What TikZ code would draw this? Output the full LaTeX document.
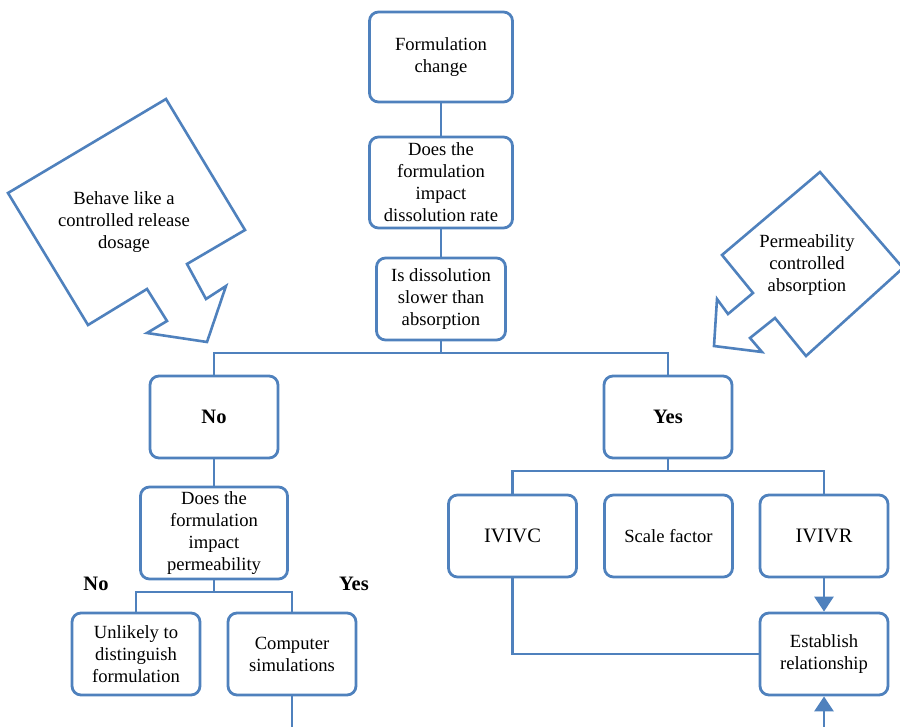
\documentclass[tikz,border=0pt]{standalone}
\usepackage{fontspec}
\setmainfont{Liberation Serif}
\usetikzlibrary{arrows.meta}

\definecolor{boxblue}{RGB}{79,129,189}

\begin{document}
\begin{tikzpicture}[x=1pt, y=-1pt,
    line width=2.8pt, draw=boxblue,
    box/.style={draw=boxblue, line width=2.8pt, rounded corners=9pt, fill=white,
        align=center, inner sep=0pt, minimum width=128pt, minimum height=82pt,
        font=\fontsize{18.6}{22}\selectfont},
    bigbox/.style={box, font=\fontsize{20.5}{22}\selectfont},
    callout/.style={draw=boxblue, line width=2.6pt, fill=white, line join=miter},
    branch/.style={font=\fontsize{20.5}{22}\selectfont\bfseries},
    >={Triangle[width=19pt,length=15pt]}]
    \useasboundingbox (0,0) rectangle (900,726);
    \clip (0,0) rectangle (900,726);

    % --- Callout arrows ---
    \draw[callout] (166,99) -- (245,230) -- (187,264) -- (206,299) -- (226,286)
        -- (207,342) -- (147,333) -- (167,321) -- (147,289) -- (88,325)
        -- (8,193) -- cycle;
    \node[align=center, font=\fontsize{18.6}{22}\selectfont] (behave) at (124,222)
        {Behave like a\\controlled release\\dosage};

    \draw[callout] (820,172) -- (903,268) -- (806,356) -- (775,318) -- (750,338)
        -- (762,352) -- (714,346) -- (717,299) -- (728,314) -- (753,293)
        -- (722,255) -- cycle;
    \node[align=center, font=\fontsize{18.6}{22}\selectfont] (permctrl) at (807,265)
        {Permeability\\controlled\\absorption};

    % --- Main column ---
    \node[box, minimum width=143pt, minimum height=90pt] (change) at (441,57)
        {Formulation\\change};
    \node[box, minimum width=143pt, minimum height=91pt] (impact) at (441,182.5)
        {Does the\\formulation\\impact\\dissolution rate};
    \node[box, minimum width=129pt] (slower) at (441,299)
        {Is dissolution\\slower than\\absorption};

    % --- No / Yes ---
    \node[box, font=\fontsize{20.5}{22}\selectfont\bfseries] (no) at (214,417) {No};
    \node[box, font=\fontsize{20.5}{22}\selectfont\bfseries] (yes) at (668,417) {Yes};

    % --- No branch ---
    \node[box, minimum width=147pt, minimum height=92pt] (perm) at (214,533)
        {Does the\\formulation\\impact\\permeability};
    \node[branch] (permNo) at (96,584) {No};
    \node[branch] (permYes) at (354,584) {Yes};
    \node[box] (unlikely) at (136,654) {Unlikely to\\distinguish\\formulation};
    \node[box] (sim) at (292,654) {Computer\\simulations};

    % --- Yes branch ---
    \node[bigbox] (ivivc) at (512.5,536) {IVIVC};
    \node[box] (scale) at (668.5,536) {Scale factor};
    \node[bigbox] (ivivr) at (824,536) {IVIVR};
    \node[box] (estab) at (824,654) {Establish\\relationship};

    % --- Connectors ---
    \coordinate (splitTop) at (441,353);
    \coordinate (yesSplit) at (668,471);
    \coordinate (permSplit) at (214,592);
    \coordinate (simEnd) at (292,730);
    \coordinate (estabIn) at (824,730);

    \draw (change) -- (impact);
    \draw (impact) -- (slower);
    \draw (slower) -- (splitTop);
    \draw (no.north) |- (splitTop) -| (yes.north);

    \draw (no) -- (perm);
    \draw (perm) -- (permSplit);
    \draw (unlikely.north) |- (permSplit) -| (sim.north);
    \draw (sim) -- (simEnd);

    \draw (yes) -- (yesSplit);
    \draw (ivivc.north) |- (yesSplit) -| (ivivr.north);
    \draw[->] (ivivr) -- (estab);
    \draw (ivivc.south) |- (estab.west);
    \draw[->] (estabIn) -- (estab);
\end{tikzpicture}
\end{document}
